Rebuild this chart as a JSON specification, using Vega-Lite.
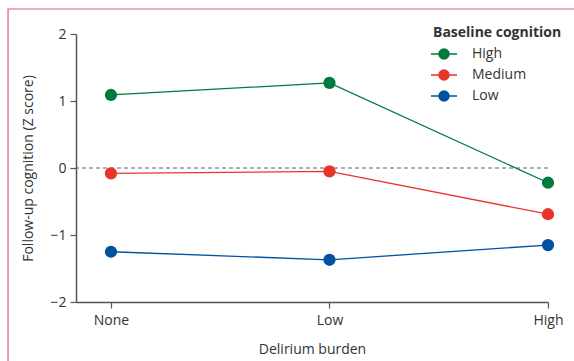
{
  "$schema": "https://vega.github.io/schema/vega-lite/v6.json",
  "width": 472,
  "height": 268,
  "autosize": "none",
  "padding": {"left": 76, "top": 34, "right": 26, "bottom": 59},
  "background": "white",
  "config": {
    "view": {"stroke": null},
    "font": "Open Sans",
    "axis": {"labelFont": "Open Sans", "titleFont": "Open Sans", "labelFontSize": 14, "titleFontSize": 14, "titleFontWeight": "normal", "labelColor": "#333", "titleColor": "#333", "domainColor": "#555", "tickColor": "#555", "domainWidth": 1.5, "tickWidth": 1.2, "tickSize": 6, "grid": false},
    "legend": {"labelFont": "Open Sans", "titleFont": "Open Sans", "labelFontSize": 14, "titleFontSize": 14, "titleFontWeight": "bold", "labelColor": "#333", "titleColor": "#333"}
  },
  "datasets": {
    "main": [
      {"burden": "None", "cognition": "High", "z": 1.09},
      {"burden": "Low", "cognition": "High", "z": 1.27},
      {"burden": "High", "cognition": "High", "z": -0.22},
      {"burden": "None", "cognition": "Medium", "z": -0.08},
      {"burden": "Low", "cognition": "Medium", "z": -0.05},
      {"burden": "High", "cognition": "Medium", "z": -0.69},
      {"burden": "None", "cognition": "Low", "z": -1.25},
      {"burden": "Low", "cognition": "Low", "z": -1.37},
      {"burden": "High", "cognition": "Low", "z": -1.15}
    ]
  },
  "layer": [
    {
      "data": {"values": [{}]},
      "mark": {"type": "rect", "fill": null, "stroke": "#d45d80", "strokeWidth": 1.2, "clip": false},
      "encoding": {
        "x": {"datum": -0.144, "type": "quantitative", "scale": {"domain": [0, 1]}, "axis": null},
        "x2": {"datum": 1.3},
        "y": {"datum": 2.373, "type": "quantitative"},
        "y2": {"datum": -3.2}
      }
    },
    {
      "layer": [
        {
          "data": {"values": [{"z": 0}]},
          "mark": {"type": "rule", "strokeDash": [4, 3], "color": "#4a6478", "strokeWidth": 1},
          "encoding": {"y": {"field": "z", "type": "quantitative"}}
        },
        {
          "data": {"name": "main"},
          "mark": {"type": "line", "strokeWidth": 1.3},
          "encoding": {
            "x": {"field": "burden", "type": "ordinal", "sort": ["None", "Low", "High"], "scale": {"type": "point", "padding": 0.08, "align": 1},
              "axis": {"title": "Delirium burden", "labelAngle": 0, "labelPadding": 5, "titlePadding": 15, "domain": true}},
            "y": {"field": "z", "type": "quantitative", "scale": {"domain": [-2, 2]},
              "axis": {"title": "Follow-up cognition (Z score)", "values": [-2, -1, 0, 1, 2], "format": "d", "labelPadding": 4, "titlePadding": 14}},
            "color": {"field": "cognition", "type": "nominal", "scale": {"domain": ["High", "Medium", "Low"], "range": ["#007a3d", "#e8352a", "#0052a0"]},
              "legend": {"title": "Baseline cognition", "orient": "none", "legendX": 357, "legendY": -8,
                "symbolType": "M-1.3,0L-0.5,0M0.5,0L1.3,0M-0.5,0a0.5,0.5 0 1,0 1,0a0.5,0.5 0 1,0 -1,0",
                "symbolSize": 400, "symbolStrokeWidth": 1.5, "labelOffset": 17, "rowPadding": 2, "titlePadding": 3,
                "encode": {"symbols": {"update": {"stroke": {"scale": "color", "field": "value"}, "fill": {"scale": "color", "field": "value"}, "opacity": {"value": 1}}}}}}
          }
        },
        {
          "data": {"name": "main"},
          "mark": {"type": "point", "filled": true, "size": 150, "opacity": 1},
          "encoding": {
            "x": {"field": "burden", "type": "ordinal", "sort": ["None", "Low", "High"]},
            "y": {"field": "z", "type": "quantitative"},
            "color": {"field": "cognition", "type": "nominal"}
          }
        }
      ]
    }
  ],
  "resolve": {"scale": {"x": "independent"}}
}
